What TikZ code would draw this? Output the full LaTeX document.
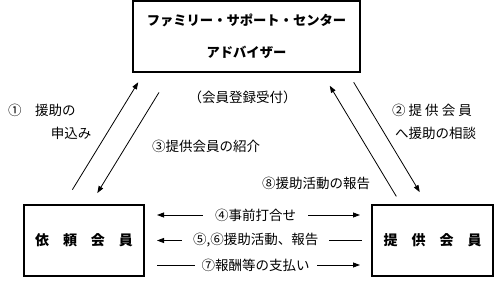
\documentclass[tikz,border=0pt]{standalone}
\usepackage{fontspec}
\setmainfont{Noto Sans CJK JP}
\usetikzlibrary{arrows.meta}

\begin{document}
\begin{tikzpicture}[x=1pt, y=1pt,
    >={Triangle[length=7pt,width=5pt]},
    memberbox/.style={rectangle, draw, line width=2pt, outer sep=0pt,
        minimum height=71pt, font=\fontsize{14pt}{16pt}\selectfont\bfseries},
    lbl/.style={font=\fontsize{13.5pt}{15pt}\selectfont, inner sep=0pt},
    arr/.style={line width=0.8pt},
    gap/.style={lbl, fill=white, inner ysep=2pt, pos=0.49}
]
    \useasboundingbox (0,0) rectangle (499,284);
    \node[memberbox, minimum width=227pt, align=center,
        font=\fontsize{13.3pt}{16pt}\selectfont\bfseries] (center) at (246.5,247.5)
        {ファミリー・サポート・センター\\[16pt]アドバイザー};
    \node[memberbox, minimum width=120pt] (irai) at (84,43.5) {依　頼　会　員};
    \node[memberbox, minimum width=121pt] (teikyo) at (432.5,43.5) {提　供　会　員};

    % center <-> members
    \draw[arr, ->, shorten <=18pt, shorten >=12pt] ([xshift=-21pt]irai.north) -- ([xshift=-102pt]center.south);
    \draw[arr, ->, shorten <=24pt, shorten >=14pt] ([xshift=-75pt]center.south) -- ([xshift=6pt]irai.north);
    \draw[arr, ->, shorten <=12pt, shorten >=15pt] ([xshift=101pt]center.south) -- ([xshift=-5pt]teikyo.north);
    \draw[arr, ->, shorten <=10pt, shorten >=16pt] ([xshift=-31pt]teikyo.north) -- ([xshift=75pt]center.south);

    \node[lbl, anchor=west] (l1a) at (8,174) {①　援助の};
    \node[lbl] (l1b) at (71,151) {申込み};
    \node[lbl] (reg) at (242.5,187) {（会員登録受付）};
    \node[lbl] (l3) at (206,138) {③提供会員の紹介};
    \node[lbl, anchor=west] (l2a) at (392,174) {② 提 供 会 員};
    \node[lbl, anchor=west] (l2b) at (395,151) {へ援助の相談};
    \node[lbl] (l8) at (316,101) {⑧援助活動の報告};

    % between members
    \draw[arr, <->, shorten <=13pt, shorten >=12pt] ([yshift=25.5pt]irai.east) --
        node[gap, inner xsep=12pt] (m4) {④事前打合せ} ([yshift=25.5pt]teikyo.west);
    \draw[arr, <-, shorten <=13pt, shorten >=10pt] (irai.east) --
        node[gap, inner xsep=11pt] (m5) {⑤,⑥援助活動、報告} (teikyo.west);
    \draw[arr, ->, shorten <=13pt, shorten >=12pt] ([yshift=-24.5pt]irai.east) --
        node[gap, inner xsep=7pt] (m7) {⑦報酬等の支払い} ([yshift=-24.5pt]teikyo.west);
\end{tikzpicture}
\end{document}
